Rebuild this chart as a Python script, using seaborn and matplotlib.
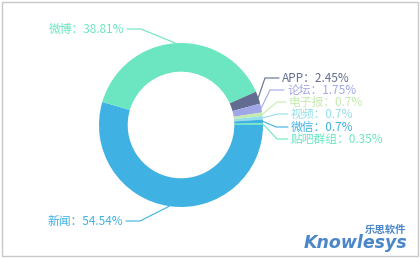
import numpy as np
import matplotlib
matplotlib.use("Agg")
import matplotlib.pyplot as plt
import seaborn as sns
from matplotlib.patches import Rectangle

sns.set_theme(style="white")
plt.rcParams['font.family'] = ['Noto Sans CJK SC', 'DejaVu Sans']

# ---- data ----
categories = ["新闻", "微博", "APP", "论坛", "电子报", "视频", "微信", "贴吧群组"]
shares = [54.54, 38.81, 2.45, 1.75, 0.7, 0.7, 0.7, 0.35]
colors = ["#3fb1e3", "#6be6c1", "#626c91", "#a0a7e6", "#c4ebad", "#96dee8", "#3fb1e3", "#6be6c1"]

# ---- layout (pixel positions of labels) ----
W, H = 420, 258
CX, CY, R = 181, 125, 82
# (text anchor x, text y, elbow x, alignment)
label_layout = {
    "新闻": (123, 221, 140, "right"),
    "微博": (124, 29, 141, "right"),
    "APP": (282, 78, 265, "left"),
    "论坛": (287, 90, 270, "left"),
    "电子报": (289, 102, 277, "left"),
    "视频": (291, 114, 278, "left"),
    "微信": (291, 127, 276, "left"),
    "贴吧群组": (291, 139, 277, "left"),
}

fig = plt.figure(figsize=(W / 100, H / 100), dpi=100)
fig.patch.set_facecolor("white")
ax = fig.add_axes([(CX - R) / W, (H - CY - R) / H, 2 * R / W, 2 * R / H])

wedges, _ = ax.pie(shares, colors=colors, startangle=0, counterclock=False,
                   radius=1, wedgeprops=dict(width=0.35, edgecolor="none"))
ax.set_aspect("auto")
ax.set_xlim(-1, 1)
ax.set_ylim(-1, 1)
ax.axis("off")

def px2data(x, y):
    return (x - CX) / R, (CY - y) / R

for w, cat, val, col in zip(wedges, categories, shares, colors):
    ang = np.deg2rad((w.theta1 + w.theta2) / 2)
    sx, sy = np.cos(ang), np.sin(ang)
    tx, ty, ex, ha = label_layout[cat]
    ex_d, ey_d = px2data(ex, ty)
    tx_d, _ = px2data(tx + (3 if ha == "right" else -3), ty)
    ax.plot([sx, ex_d, tx_d], [sy, ey_d, ey_d], color=col, lw=0.8, clip_on=False)
    lx, ly = px2data(tx, ty)
    ax.text(lx, ly, f"{cat}：{val:g}%", color=col, fontsize=8.5, ha=ha, va="center",
            clip_on=False)

# frame border
fig.patches.append(Rectangle((2 / W, 2 / H), 416 / W, 254 / H, transform=fig.transFigure,
                             fill=False, edgecolor="#c8c8c8", lw=1))

# logo
fig.text(406 / W, 1 - 230 / H, "乐思软件", color="#4a86c8", fontsize=7.5, fontweight="bold",
         ha="right", va="center")
fig.text(407 / W, 1 - 243 / H, "Knowlesys", color="#4a86c8", fontsize=12.5,
         fontweight="heavy", fontstyle="italic", family="DejaVu Sans", ha="right", va="center")

fig.savefig("out.png", dpi=100, facecolor="white")
